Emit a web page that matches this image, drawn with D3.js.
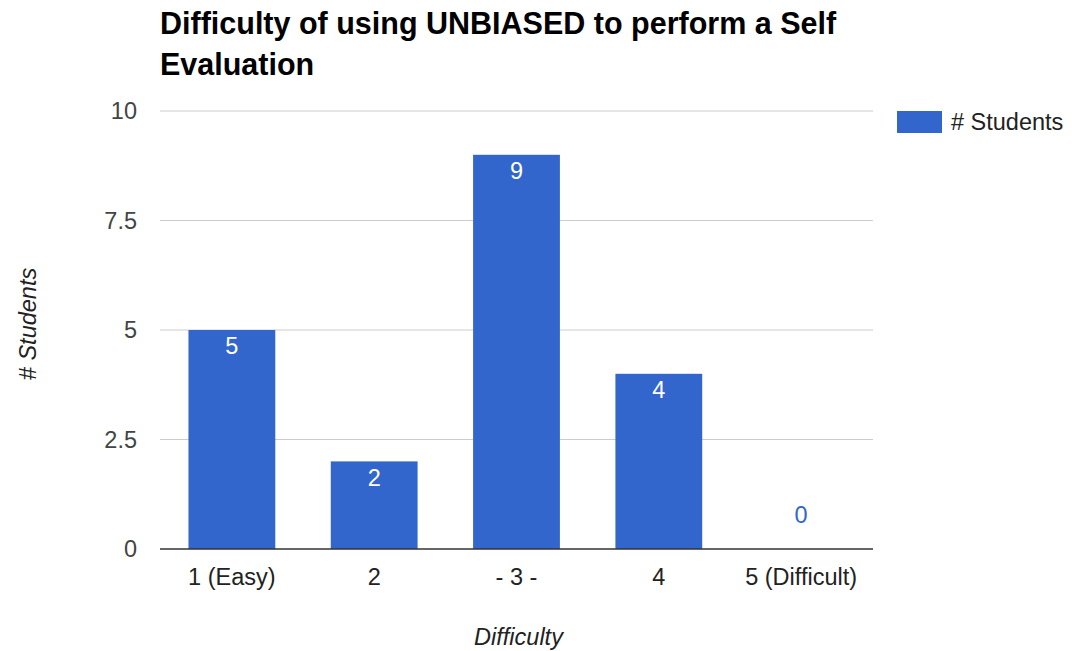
<!DOCTYPE html>
<html lang="en">
<head>
    <meta charset="UTF-8">
    <title>Difficulty of using UNBIASED</title>
    <script src="https://d3js.org/d3.v7.min.js"></script>
    <style>
        body { margin: 0; background: #fff; }
        svg { font-family: "Liberation Sans", Arial, sans-serif; }
        .title { font-size: 30.5px; font-weight: bold; fill: #000; }
        .tick-y { font-size: 23.5px; fill: #444; }
        .tick-x { font-size: 23.5px; fill: #222; }
        .axis-label { font-size: 23.5px; font-style: italic; fill: #222; }
        .value { font-size: 23.5px; text-anchor: middle; }
    </style>
</head>
<body>
    <svg width="1073" height="651"></svg>
    <script>
        const categories = ["1 (Easy)", "2", "- 3 -", "4", "5 (Difficult)"];
        const students = [5, 2, 9, 4, 0];
        const yTicks = [0, 2.5, 5, 7.5, 10];
        const seriesName = "# Students";

        const svg = d3.select("svg");
        const plotLeft = 160, plotRight = 873, plotTop = 111, plotBottom = 549;

        const x = d3.scaleBand()
            .domain(categories)
            .range([plotLeft, plotRight])
            .paddingInner(0.39)
            .paddingOuter(0.2);
        const y = d3.scaleLinear().domain([0, 10]).range([plotBottom, plotTop]);

        // title
        const title = svg.append("text").attr("class", "title");
        title.append("tspan").attr("x", 160).attr("y", 34).text("Difficulty of using UNBIASED to perform a Self");
        title.append("tspan").attr("x", 160).attr("y", 75).text("Evaluation");

        // gridlines
        svg.append("g").selectAll("line")
            .data(yTicks.filter(d => d > 0))
            .enter().append("line")
            .attr("x1", plotLeft).attr("x2", plotRight)
            .attr("y1", d => y(d)).attr("y2", d => y(d))
            .attr("stroke", "#ccc").attr("stroke-width", 1);

        svg.append("g").selectAll("text")
            .data(yTicks)
            .enter().append("text")
            .attr("class", "tick-y")
            .attr("x", 137)
            .attr("y", d => y(d))
            .attr("dy", "0.35em")
            .attr("text-anchor", "end")
            .text(d => d);

        // bars
        const data = categories.map((c, i) => ({ cat: c, val: students[i] }));
        svg.append("g").selectAll("rect")
            .data(data)
            .enter().append("rect")
            .attr("x", d => x(d.cat))
            .attr("y", d => y(d.val))
            .attr("width", x.bandwidth())
            .attr("height", d => plotBottom - y(d.val))
            .attr("fill", "#3366cc");

        svg.append("g").selectAll("text")
            .data(data)
            .enter().append("text")
            .attr("class", "value")
            .attr("x", d => x(d.cat) + x.bandwidth() / 2)
            .attr("y", d => d.val > 0 ? y(d.val) + 16 : y(d.val) - 34)
            .attr("dy", "0.35em")
            .attr("fill", d => d.val > 0 ? "#fff" : "#3366cc")
            .text(d => d.val);

        // baseline
        svg.append("line")
            .attr("x1", plotLeft).attr("x2", plotRight)
            .attr("y1", plotBottom).attr("y2", plotBottom)
            .attr("stroke", "#333").attr("stroke-width", 1.5);

        svg.append("g").selectAll("text")
            .data(categories)
            .enter().append("text")
            .attr("class", "tick-x")
            .attr("x", d => x(d) + x.bandwidth() / 2)
            .attr("y", 577)
            .attr("dy", "0.35em")
            .attr("text-anchor", "middle")
            .text(d => d);

        // axis titles
        svg.append("text")
            .attr("class", "axis-label")
            .attr("x", (plotLeft + plotRight) / 2 + 2)
            .attr("y", 637)
            .attr("dy", "0.35em")
            .attr("text-anchor", "middle")
            .text("Difficulty");
        svg.append("text")
            .attr("class", "axis-label")
            .attr("transform", `translate(28,${(plotTop + plotBottom) / 2 - 6}) rotate(-90)`)
            .attr("dy", "0.35em")
            .attr("text-anchor", "middle")
            .text(seriesName);

        // legend
        svg.append("rect")
            .attr("x", 897).attr("y", 111)
            .attr("width", 45).attr("height", 22)
            .attr("fill", "#3366cc");
        svg.append("text")
            .attr("class", "tick-x")
            .attr("x", 951).attr("y", 122)
            .attr("dy", "0.35em")
            .text(seriesName);
    </script>
</body>
</html>
